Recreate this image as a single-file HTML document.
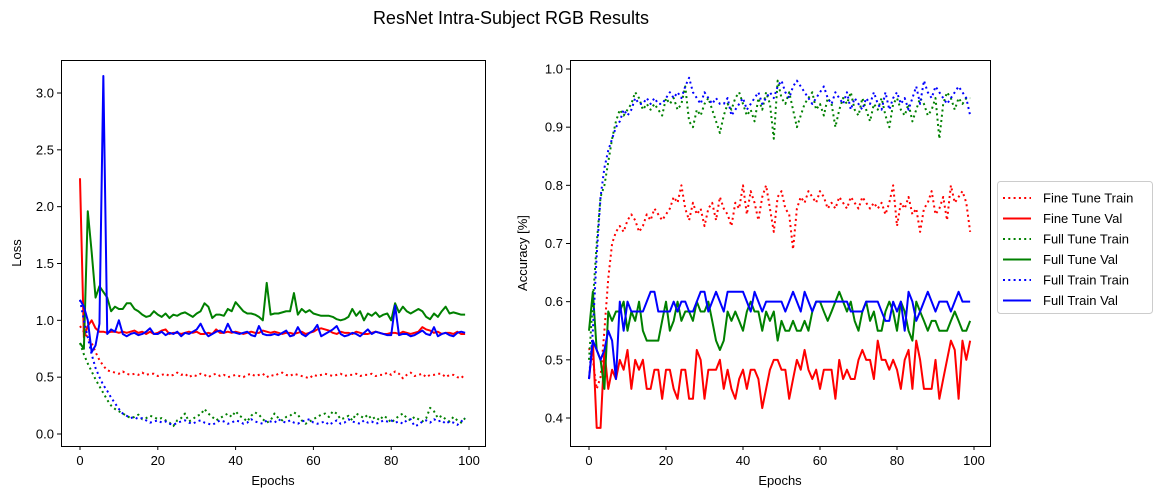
<!DOCTYPE html>
<html><head><meta charset="utf-8"><style>
body{margin:0;background:#fff;}
svg{display:block;font-family:"Liberation Sans","DejaVu Sans",sans-serif;}
</style></head><body>
<svg id="fig" width="1160" height="498" viewBox="0 0 1160 498">
<rect width="1160" height="498" fill="#fff"/>
<text x="511" y="24" font-size="18" text-anchor="middle">ResNet Intra-Subject RGB Results</text>
<g id="left"></g>
<g id="right"></g>
<g id="legend"></g>
</svg>
<script>
const epochs = Array.from({length:100},(_,i)=>i);
const seriesNames = ["Fine Tune Train","Fine Tune Val","Full Tune Train","Full Tune Val","Full Train Train","Full Train Val"];
const lossXTicks = [0,20,40,60,80,100];
const lossYTicks = [0.0,0.5,1.0,1.5,2.0,2.5,3.0];
const accXTicks = [0,20,40,60,80,100];
const accYTicks = [0.4,0.5,0.6,0.7,0.8,0.9,1.0];

const lossFineTrain = [0.95,0.90,0.85,0.80,0.72,0.65,0.60,0.56,0.55,0.54,0.53,0.55,0.53,0.52,0.53,0.52,0.54,0.52,0.53,0.53,0.51,0.52,0.53,0.51,0.52,0.54,0.52,0.53,0.50,0.52,0.51,0.53,0.52,0.50,0.52,0.53,0.51,0.52,0.50,0.51,0.52,0.51,0.50,0.52,0.53,0.51,0.52,0.53,0.50,0.52,0.51,0.53,0.54,0.52,0.51,0.53,0.52,0.51,0.50,0.49,0.52,0.51,0.52,0.53,0.52,0.51,0.52,0.53,0.51,0.52,0.52,0.53,0.51,0.52,0.52,0.53,0.51,0.52,0.52,0.54,0.52,0.55,0.53,0.49,0.52,0.54,0.51,0.52,0.53,0.50,0.52,0.52,0.53,0.53,0.50,0.52,0.52,0.50,0.49,0.53];
const lossFineVal = [2.25,0.85,0.95,1.00,0.93,0.90,0.90,0.89,0.90,0.90,0.89,0.90,0.89,0.90,0.91,0.89,0.90,0.88,0.90,0.88,0.89,0.91,0.92,0.88,0.89,0.89,0.88,0.89,0.90,0.89,0.90,0.88,0.88,0.89,0.88,0.92,0.89,0.89,0.90,0.89,0.90,0.89,0.88,0.89,0.90,0.89,0.89,0.91,0.90,0.89,0.90,0.89,0.88,0.89,0.89,0.88,0.89,0.90,0.88,0.89,0.90,0.92,0.93,0.92,0.91,0.89,0.88,0.90,0.89,0.89,0.88,0.90,0.89,0.88,0.88,0.89,0.90,0.89,0.88,0.88,0.89,0.89,0.88,0.90,0.89,0.88,0.89,0.90,0.94,0.92,0.91,0.89,0.90,0.88,0.89,0.89,0.88,0.90,0.88,0.88];
const lossFullTuneTrain = [0.80,0.70,0.62,0.55,0.48,0.42,0.36,0.30,0.25,0.22,0.20,0.18,0.16,0.14,0.15,0.17,0.13,0.14,0.16,0.15,0.13,0.14,0.12,0.10,0.07,0.12,0.14,0.18,0.11,0.13,0.16,0.17,0.22,0.18,0.15,0.12,0.14,0.16,0.18,0.15,0.20,0.16,0.14,0.11,0.16,0.19,0.17,0.13,0.10,0.12,0.18,0.14,0.12,0.15,0.16,0.19,0.17,0.12,0.09,0.11,0.13,0.15,0.17,0.18,0.15,0.20,0.18,0.13,0.14,0.16,0.12,0.18,0.16,0.14,0.17,0.13,0.15,0.12,0.16,0.14,0.10,0.13,0.16,0.18,0.14,0.12,0.15,0.13,0.11,0.14,0.23,0.20,0.14,0.16,0.13,0.11,0.15,0.12,0.10,0.14];
const lossFullTuneVal = [0.80,0.75,1.96,1.60,1.20,1.30,1.25,1.20,1.08,1.12,1.10,1.10,1.15,1.15,1.10,1.08,1.05,1.03,1.04,1.08,1.05,1.03,1.06,1.02,1.05,1.04,1.06,1.07,1.05,1.03,1.06,1.08,1.15,1.12,1.02,1.05,1.05,1.04,1.10,1.08,1.16,1.12,1.08,1.06,1.06,1.05,1.03,1.00,1.33,1.05,1.06,1.06,1.07,1.08,1.08,1.24,1.05,1.10,1.07,1.09,1.06,1.05,1.04,1.04,1.04,1.03,1.01,1.00,1.01,1.03,1.10,1.04,1.08,1.00,1.06,1.04,1.07,1.03,1.05,1.06,1.00,1.15,1.07,1.12,1.08,1.06,1.08,1.10,1.08,1.03,1.01,1.06,1.03,1.08,1.12,1.06,1.07,1.06,1.05,1.05];
const lossFullTrainTrain = [1.18,1.00,0.85,0.70,0.58,0.50,0.43,0.38,0.32,0.27,0.22,0.18,0.16,0.14,0.15,0.13,0.14,0.12,0.10,0.11,0.12,0.10,0.11,0.09,0.08,0.10,0.11,0.12,0.10,0.09,0.11,0.12,0.10,0.09,0.08,0.10,0.12,0.11,0.09,0.10,0.12,0.11,0.09,0.10,0.13,0.11,0.10,0.09,0.12,0.11,0.10,0.13,0.11,0.10,0.12,0.10,0.09,0.11,0.12,0.13,0.10,0.09,0.10,0.11,0.08,0.10,0.12,0.09,0.10,0.13,0.11,0.10,0.09,0.12,0.10,0.11,0.09,0.10,0.12,0.11,0.12,0.10,0.11,0.09,0.12,0.13,0.07,0.08,0.11,0.12,0.10,0.13,0.11,0.12,0.09,0.11,0.10,0.08,0.11,0.14];
const lossFullTrainVal = [1.18,1.12,1.00,0.72,0.78,0.97,3.15,0.88,0.92,0.90,1.00,0.88,0.86,0.88,0.89,0.87,0.88,0.90,0.93,0.88,0.88,0.90,0.87,0.89,0.88,0.90,0.86,0.89,0.88,0.90,0.92,0.97,0.90,0.86,0.88,0.90,0.91,0.89,0.97,0.90,0.89,0.88,0.89,0.90,0.87,0.86,0.95,0.88,0.87,0.87,0.88,0.87,0.89,0.91,0.86,0.87,0.94,0.88,0.86,0.89,0.91,0.96,0.86,0.88,0.90,0.92,0.95,0.88,0.86,0.87,0.89,0.88,0.86,0.89,0.92,0.88,0.90,0.89,0.88,0.87,0.87,1.13,0.87,0.88,0.88,0.86,0.87,0.89,0.91,0.88,0.87,0.94,0.86,0.88,0.89,0.87,0.86,0.89,0.90,0.89];

const accFineTrain = [0.52,0.50,0.45,0.47,0.55,0.64,0.70,0.72,0.73,0.72,0.74,0.75,0.74,0.72,0.73,0.75,0.74,0.76,0.75,0.74,0.75,0.76,0.78,0.77,0.80,0.76,0.74,0.77,0.75,0.76,0.73,0.76,0.77,0.74,0.78,0.76,0.75,0.73,0.77,0.76,0.80,0.75,0.79,0.77,0.74,0.78,0.80,0.76,0.72,0.78,0.79,0.76,0.75,0.69,0.76,0.78,0.77,0.79,0.78,0.77,0.79,0.78,0.76,0.77,0.76,0.78,0.77,0.76,0.78,0.77,0.76,0.78,0.77,0.76,0.77,0.76,0.77,0.75,0.77,0.80,0.73,0.77,0.76,0.78,0.75,0.76,0.72,0.76,0.77,0.79,0.75,0.76,0.78,0.74,0.80,0.77,0.78,0.79,0.77,0.72];
const accFineVal = [0.467,0.533,0.383,0.383,0.517,0.450,0.483,0.467,0.500,0.483,0.517,0.450,0.500,0.483,0.500,0.450,0.450,0.483,0.483,0.433,0.483,0.483,0.450,0.433,0.483,0.483,0.433,0.433,0.517,0.500,0.433,0.483,0.483,0.483,0.500,0.450,0.483,0.450,0.433,0.467,0.483,0.450,0.483,0.483,0.467,0.417,0.450,0.483,0.500,0.500,0.483,0.483,0.433,0.467,0.500,0.483,0.517,0.483,0.467,0.483,0.450,0.483,0.483,0.483,0.433,0.500,0.467,0.483,0.467,0.467,0.500,0.517,0.500,0.500,0.467,0.533,0.500,0.500,0.483,0.500,0.483,0.450,0.500,0.517,0.450,0.533,0.500,0.450,0.450,0.450,0.500,0.433,0.467,0.500,0.533,0.517,0.433,0.533,0.500,0.533];
const accFullTuneTrain = [0.50,0.60,0.70,0.78,0.80,0.84,0.88,0.91,0.93,0.92,0.93,0.94,0.96,0.95,0.93,0.94,0.93,0.94,0.93,0.92,0.95,0.94,0.95,0.93,0.94,0.97,0.91,0.90,0.93,0.92,0.94,0.95,0.93,0.91,0.89,0.92,0.94,0.93,0.95,0.96,0.94,0.92,0.93,0.91,0.95,0.93,0.96,0.94,0.88,0.98,0.95,0.94,0.96,0.93,0.90,0.92,0.94,0.95,0.96,0.93,0.94,0.92,0.95,0.94,0.90,0.93,0.95,0.94,0.96,0.93,0.92,0.95,0.93,0.91,0.94,0.93,0.95,0.92,0.90,0.94,0.95,0.93,0.92,0.94,0.91,0.93,0.95,0.94,0.92,0.93,0.95,0.88,0.94,0.96,0.95,0.93,0.95,0.94,0.95,0.95];
const accFullTuneVal = [0.550,0.617,0.517,0.500,0.450,0.583,0.567,0.583,0.583,0.600,0.550,0.583,0.567,0.600,0.550,0.533,0.533,0.533,0.533,0.567,0.600,0.550,0.567,0.600,0.567,0.583,0.583,0.567,0.600,0.583,0.583,0.600,0.567,0.533,0.517,0.533,0.583,0.567,0.583,0.567,0.550,0.583,0.600,0.583,0.583,0.550,0.583,0.567,0.583,0.533,0.567,0.550,0.550,0.567,0.550,0.550,0.567,0.550,0.583,0.600,0.600,0.583,0.567,0.583,0.600,0.617,0.600,0.583,0.600,0.567,0.550,0.583,0.600,0.567,0.583,0.550,0.550,0.583,0.600,0.583,0.550,0.600,0.583,0.550,0.533,0.600,0.583,0.567,0.550,0.567,0.567,0.550,0.550,0.550,0.567,0.583,0.567,0.550,0.550,0.567];
const accFullTrainTrain = [0.467,0.550,0.680,0.780,0.830,0.860,0.880,0.900,0.910,0.930,0.920,0.930,0.950,0.940,0.940,0.950,0.940,0.950,0.940,0.940,0.950,0.960,0.950,0.960,0.950,0.970,0.985,0.960,0.950,0.940,0.960,0.950,0.940,0.950,0.940,0.940,0.950,0.920,0.930,0.940,0.950,0.930,0.940,0.950,0.960,0.940,0.950,0.960,0.950,0.970,0.980,0.960,0.950,0.970,0.980,0.970,0.960,0.950,0.940,0.950,0.960,0.970,0.950,0.940,0.960,0.950,0.940,0.960,0.930,0.950,0.940,0.930,0.950,0.940,0.960,0.940,0.930,0.960,0.930,0.950,0.960,0.940,0.950,0.930,0.950,0.970,0.940,0.980,0.960,0.950,0.970,0.960,0.950,0.940,0.950,0.960,0.970,0.960,0.950,0.920];
const accFullTrainVal = [0.467,0.533,0.517,0.500,0.517,0.550,0.533,0.467,0.600,0.550,0.600,0.583,0.583,0.583,0.583,0.600,0.617,0.617,0.583,0.583,0.583,0.583,0.600,0.583,0.600,0.600,0.583,0.583,0.600,0.617,0.617,0.583,0.600,0.617,0.600,0.583,0.617,0.617,0.617,0.617,0.617,0.600,0.583,0.617,0.600,0.583,0.600,0.600,0.600,0.600,0.600,0.583,0.600,0.617,0.600,0.583,0.617,0.600,0.583,0.600,0.600,0.600,0.600,0.600,0.600,0.600,0.600,0.600,0.583,0.583,0.583,0.583,0.600,0.600,0.600,0.600,0.583,0.567,0.567,0.600,0.583,0.600,0.550,0.617,0.600,0.567,0.583,0.600,0.617,0.600,0.583,0.600,0.600,0.600,0.583,0.600,0.617,0.600,0.600,0.600];

const NS = "http://www.w3.org/2000/svg";
function mk(parent, tag, attrs, text){
  const e = document.createElementNS(NS, tag);
  for (const k in attrs) e.setAttribute(k, attrs[k]);
  if (text !== undefined) e.textContent = text;
  parent.appendChild(e);
  return e;
}
const styles = [
  {c:"#ff0000", dash:"2,3.3"},{c:"#ff0000", dash:null},
  {c:"#008000", dash:"2,3.3"},{c:"#008000", dash:null},
  {c:"#0000ff", dash:"2,3.3"},{c:"#0000ff", dash:null}
];
const slugs = ["fine-tune-train","fine-tune-val","full-tune-train","full-tune-val","full-train-train","full-train-val"];

function panel(g, box, xDom, yDom, xTicks, yTicks, yFmt, yLabel, yLabelX, series, prefix){
  const xs = v => box.x0 + 19 + (v - xDom[0]) / (xDom[1]-xDom[0]) * (box.x1 - box.x0 - 35);
  const ys = v => box.yA + (v - yDom[0]) / (yDom[1]-yDom[0]) * (box.yB - box.yA);
  series.forEach((arr, si) => {
    const d = arr.map((v,i) => (i? "L":"M") + xs(epochs[i]).toFixed(2) + "," + ys(v).toFixed(2)).join("");
    const p = mk(g, "path", {d:d, fill:"none", stroke:styles[si].c, "stroke-width":2, "stroke-linejoin":"round"});
    if (styles[si].dash) p.setAttribute("stroke-dasharray", styles[si].dash);
    
    
  });
  const frame = mk(g, "rect", {x:box.x0+0.5, y:box.y0+0.5, width:box.x1-box.x0, height:box.y1-box.y0, fill:"none", stroke:"#000", "stroke-width":1});
  
  
  xTicks.forEach(t => {
    const x = xs(t);
    mk(g, "line", {x1:x, x2:x, y1:box.y1, y2:box.y1+4, stroke:"#000"});
    const tl = mk(g, "text", {x:x, y:box.y1+19, "font-size":13, "text-anchor":"middle"}, String(t));
    
    
  });
  yTicks.forEach(t => {
    const y = ys(t);
    mk(g, "line", {x1:box.x0-4, x2:box.x0, y1:y, y2:y, stroke:"#000"});
    const tl = mk(g, "text", {x:box.x0-7, y:y+4.5, "font-size":13, "text-anchor":"end"}, yFmt(t));
    
    
  });
  const xl = mk(g, "text", {x:(box.x0+box.x1)/2, y:485, "font-size":13, "text-anchor":"middle"}, "Epochs");
  
  
  const cy = (box.y0+box.y1)/2;
  const yl = mk(g, "text", {x:yLabelX, y:cy, "font-size":13, "text-anchor":"middle", transform:"rotate(-90 "+yLabelX+" "+cy+")"}, yLabel);
  
  
}

panel(document.getElementById("left"), {x0:61,x1:485,y0:60,y1:446,yA:434,yB:93}, [0,100],[0,3],
  lossXTicks, lossYTicks, v=>v.toFixed(1), "Loss", 21,
  [lossFineTrain,lossFineVal,lossFullTuneTrain,lossFullTuneVal,lossFullTrainTrain,lossFullTrainVal], "loss");
panel(document.getElementById("right"), {x0:570,x1:990,y0:60,y1:446,yA:418,yB:69}, [0,100],[0.4,1.0],
  accXTicks, accYTicks, v=>v.toFixed(1), "Accuracy [%]", 527,
  [accFineTrain,accFineVal,accFullTuneTrain,accFullTuneVal,accFullTrainTrain,accFullTrainVal], "accuracy");

const lg = document.getElementById("legend");
mk(lg, "rect", {x:997.5, y:181.5, width:155, height:132, rx:3, fill:"#fff", stroke:"#ccc"});
seriesNames.forEach((name, i) => {
  const y = 198 + i*20.5;
  const l = mk(lg, "line", {x1:1003, x2:1031, y1:y, y2:y, stroke:styles[i].c, "stroke-width":2});
  if (styles[i].dash) l.setAttribute("stroke-dasharray", styles[i].dash);
  
  
  const t = mk(lg, "text", {x:1043, y:y+4.5, "font-size":13}, name);
  
  
});
</script>
</body></html>
